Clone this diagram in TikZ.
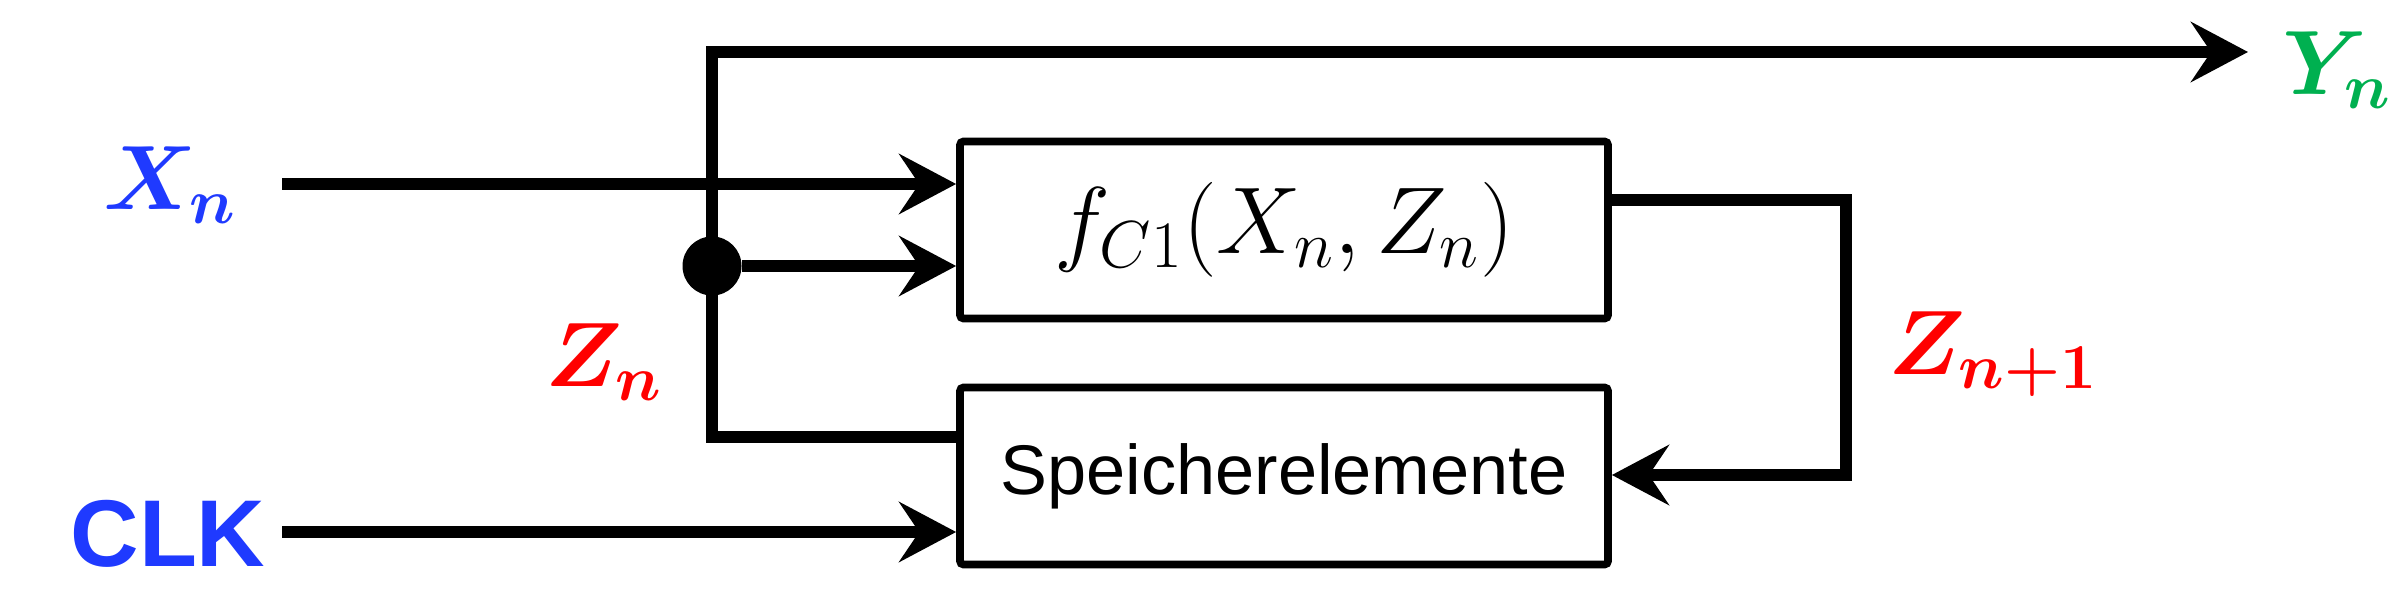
\documentclass[tikz,border=0pt]{standalone}
\usepackage{fix-cm}
\usepackage{amsmath}
\usepackage{amssymb}
\usepackage{bm}
\usepackage{fontspec}
\setsansfont{Liberation Sans}
\usetikzlibrary{arrows.meta}
\definecolor{inblue}{RGB}{31,58,255}
\definecolor{zred}{RGB}{255,0,0}
\definecolor{ygreen}{RGB}{0,176,80}

\begin{document}
\begin{tikzpicture}
                [
                block/.style={draw,line width=2.2pt,rounded corners=1pt,minimum width=6.48cm,minimum height=1.77cm,inner sep=0pt},
                sig/.style={line width=3.4pt},
                edge/.style={sig,-{Stealth[length=5.7mm,width=6mm,inset=2mm]}},
                lbl/.style={font=\fontsize{26}{30}\selectfont,inner sep=0pt}
                ]
            \useasboundingbox (0,0) rectangle (24,6.06);
            \node[block] (comb) at (12.84,3.76) {\fontsize{27}{30}\selectfont $f_{C1}(X_n,Z_n)$};
            \node[block] (mem) at (12.84,1.30) {\fontsize{20}{24}\selectfont\sffamily Speicherelemente};
            \node[lbl,text=inblue] (xn) at (1.70,4.21) {$\bm{X_n}$};
            \node[lbl,text=inblue,font=\fontsize{27}{30}\selectfont\sffamily\bfseries] (clk) at (1.68,0.72) {CLK};
            \node[lbl,text=zred] (zn) at (6.04,2.44) {$\bm{Z_n}$};
            \node[lbl,text=zred] (znext) at (19.93,2.52) {$\bm{Z_{n+1}}$};
            \node[lbl,text=ygreen] (yn) at (23.37,5.36) {$\bm{Y_n}$};
            \coordinate (xin) at (2.82,4.22);
            \coordinate (clkin) at (2.82,0.74);
            \coordinate (top) at (7.12,5.54);
            \coordinate (yout) at (22.48,5.54);
            \coordinate (low) at (7.12,1.69);
            \coordinate (fb1) at (18.46,4.06);
            \coordinate (fb2) at (18.46,1.31);
            \node[circle,fill,inner sep=0pt,minimum size=0.59cm] (dot) at (7.12,3.40) {};
            \draw[edge] (xin) -- (xin -| comb.west);
            \draw[edge] (dot) -- (dot -| comb.west);
            \draw[edge] (clkin) -- (clkin -| mem.west);
            \draw[edge] (low -| mem.west) -- (low) -- (top) -- (yout);
            \draw[edge] (fb1 -| comb.east) -- (fb1) -- (fb2) -- (fb2 -| mem.east);
            \end{tikzpicture}
\end{document}
